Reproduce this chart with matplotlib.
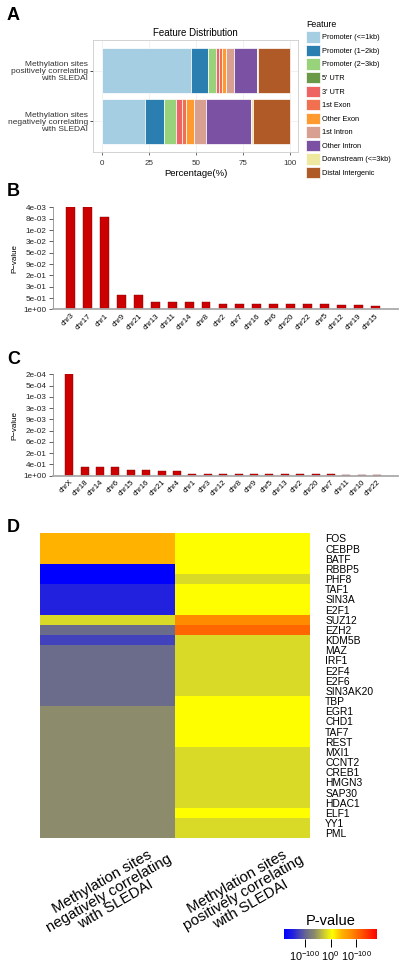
import matplotlib.pyplot as plt
import numpy as np
from matplotlib.colors import LinearSegmentedColormap, Normalize

plt.rcParams['font.family'] = ['Liberation Sans', 'DejaVu Sans']
plt.rcParams['mathtext.default'] = 'regular'

W, H = 401, 971

# ---- Panel A: feature distribution (percent of sites) ----
features = ['Promoter (<=1kb)', 'Promoter (1\u22122kb)', 'Promoter (2\u22123kb)', "5' UTR", "3' UTR",
            '1st Exon', 'Other Exon', '1st Intron', 'Other Intron', 'Downstream (<=3kb)', 'Distal Intergenic']
feature_colors = ['#a6cee3', '#2b7fb0', '#98d27a', '#6a9a48', '#ee6464', '#f07050',
                  '#ff9a30', '#d8a090', '#7b52a3', '#eee8a0', '#b05a28']
groups = ['Methylation sites\nnegatively correlating\nwith SLEDAI',
          'Methylation sites\npositively correlating\nwith SLEDAI']
pct_neg = [22.7, 10.1, 6.4, 0.4, 3.0, 2.3, 4.1, 6.4, 24.2, 0.7, 19.7]
pct_pos = [47.6, 8.7, 4.3, 0.3, 1.6, 1.2, 2.3, 4.3, 12.1, 0.9, 16.7]

# ---- Panel B: chromosome enrichment, positively correlating (-log10 p) ----
b_chr = ['chr3', 'chr17', 'chr1', 'chr9', 'chr21', 'chr13', 'chr11', 'chr14', 'chr8', 'chr2',
         'chr7', 'chr16', 'chr6', 'chr20', 'chr22', 'chr5', 'chr12', 'chr19', 'chr15']
b_score = [2.4, 2.4, 2.18, 0.35, 0.33, 0.17, 0.17, 0.17, 0.17, 0.14,
           0.14, 0.14, 0.14, 0.14, 0.14, 0.13, 0.10, 0.10, 0.08]
b_ticklabels = ['1e+00', '5e-01', '3e-01', '2e-01', '9e-02', '5e-02', '3e-02', '1e-02', '8e-03', '4e-03']
b_max = 2.4

# ---- Panel C: chromosome enrichment, negatively correlating (-log10 p) ----
c_chr = ['chrX', 'chr18', 'chr14', 'chr6', 'chr15', 'chr16', 'chr21', 'chr4', 'chr1', 'chr3', 'chr12',
         'chr8', 'chr9', 'chr5', 'chr13', 'chr2', 'chr20', 'chr7', 'chr11', 'chr10', 'chr22']
c_score = [3.7, 0.33, 0.33, 0.33, 0.21, 0.21, 0.18, 0.18, 0.08, 0.08, 0.08,
           0.08, 0.08, 0.08, 0.08, 0.05, 0.05, 0.05, 0.02, 0.02, 0.02]
c_ticklabels = ['1e+00', '4e-01', '2e-01', '6e-02', '2e-02', '9e-03', '3e-03', '1e-03', '5e-04', '2e-04']
c_max = 3.7

# ---- Panel D: TF binding enrichment heatmap (signed score) ----
tfs = ['FOS', 'CEBPB', 'BATF', 'RBBP5', 'PHF8', 'TAF1', 'SIN3A', 'E2F1', 'SUZ12', 'EZH2',
       'KDM5B', 'MAZ', 'IRF1', 'E2F4', 'E2F6', 'SIN3AK20', 'TBP', 'EGR1', 'CHD1', 'TAF7',
       'REST', 'MXI1', 'CCNT2', 'CREB1', 'HMGN3', 'SAP30', 'HDAC1', 'ELF1', 'YY1', 'PML']
score_neg = [0.24, 0.24, 0.24, -1.0, -1.0, -0.8, -0.8, -0.8, -0.1, -0.52,
             -0.68, -0.52, -0.52, -0.52, -0.52, -0.52, -0.52, -0.34, -0.34, -0.34,
             -0.34, -0.34, -0.34, -0.34, -0.34, -0.34, -0.34, -0.34, -0.34, -0.34]
score_pos = [0.04, 0.04, 0.04, 0.04, -0.1, 0.04, 0.04, 0.04, 0.44, 0.6,
             -0.1, -0.1, -0.1, -0.1, -0.1, -0.1, 0.04, 0.04, 0.04, 0.04,
             0.04, -0.1, -0.1, -0.1, -0.1, -0.1, -0.1, 0.04, -0.1, -0.1]
columns = ['Methylation sites\nnegatively correlating\nwith SLEDAI',
           'Methylation sites\npositively correlating\nwith SLEDAI']

fig = plt.figure(figsize=(W / 100, H / 100), dpi=100)


def add_ax(l, t, r, b):
    return fig.add_axes([l / W, 1 - b / H, (r - l) / W, (b - t) / H])


# Panel A
axA = add_ax(93, 40, 298, 152)
left = np.zeros(2)
for name, col, vals in zip(features, feature_colors, zip(pct_neg, pct_pos)):
    axA.barh([0, 1], vals, left=left, height=0.9, color=col, edgecolor='white',
             linewidth=0.5, label=name)
    left += np.array(vals)
axA.set_xlim(-5, 104.5)
axA.set_ylim(-0.6, 1.6)
axA.set_xticks([0, 25, 50, 75, 100])
axA.set_yticks([0, 1])
axA.set_yticklabels(groups, fontsize=6, linespacing=1.0, color='#333333')
axA.tick_params(axis='x', labelsize=5.8, length=2.5, width=0.5, pad=3, colors='#333333')
axA.tick_params(axis='y', length=2.5, width=0.5, pad=1)
axA.grid(color='#ececec', linewidth=0.5)
axA.set_axisbelow(True)
for s in axA.spines.values():
    s.set_color('#cccccc')
    s.set_linewidth(0.6)
axA.set_title('Feature Distribution', fontsize=7, pad=3)
axA.set_xlabel('Percentage(%)', fontsize=6.8, labelpad=2)
fig.legend(title='Feature', loc='upper left', bbox_to_anchor=(306 / W, 1 - 20 / H),
           frameon=False, fontsize=5.3, title_fontsize=6.3, handlelength=1.9, handleheight=2.0,
           labelspacing=0.3, handletextpad=0.25, alignment='left', borderaxespad=0, borderpad=0)


def chr_bars(ax, names, scores, ymax, labels):
    x = np.arange(len(names))
    ax.bar(x, scores, width=0.52, color='#cc0000', edgecolor='#800000', linewidth=0.3)
    ax.set_ylim(0, ymax)
    ax.set_xlim(-1.05, len(names) - 1 + 1.35)
    ax.set_yticks(np.linspace(0, ymax, len(labels)))
    ax.set_yticklabels(labels)
    ax.set_xticks(x)
    ax.set_xticklabels(names, rotation=45, ha='right', va='top', rotation_mode='anchor')
    ax.tick_params(axis='x', length=0, labelsize=5.6, pad=2)
    ax.tick_params(axis='y', length=3, width=0.5, labelsize=5.9, pad=1.5, colors='#222222')
    ax.spines['top'].set_visible(False)
    ax.spines['right'].set_visible(False)
    ax.spines['left'].set_color('#777777')
    ax.spines['left'].set_linewidth(0.5)
    ax.spines['bottom'].set_color('#aaaaaa')
    ax.spines['bottom'].set_linewidth(1.3)
    ax.set_ylabel('P\u2212value', fontsize=5.8, labelpad=4)


axB = add_ax(53, 207.5, 398, 309.5)
chr_bars(axB, b_chr, b_score, b_max, b_ticklabels)
axC = add_ax(53, 374.3, 398, 475.7)
chr_bars(axC, c_chr, c_score, c_max, c_ticklabels)

# Panel D
cmap = LinearSegmentedColormap.from_list('pv', [
    (0.00, '#0000ff'), (0.10, '#2222dd'), (0.16, '#4444bb'), (0.24, '#6b6b8c'),
    (0.33, '#8c8c6c'), (0.45, '#d8d828'), (0.52, '#ffff00'), (0.62, '#ffb300'),
    (0.72, '#ff8c00'), (0.80, '#ff6600'), (1.00, '#ff0000')])
norm = Normalize(-1, 1)
axD = add_ax(40, 533.3, 310, 838.3)
vals = np.column_stack([score_neg, score_pos])
mesh = axD.pcolormesh(vals, cmap=cmap, norm=norm)
axD.set_ylim(len(tfs), 0)
axD.set_xlim(0, 2)
axD.set_yticks(np.arange(len(tfs)) + 0.5)
axD.set_yticklabels(tfs, fontsize=7.4)
axD.yaxis.tick_right()
axD.tick_params(axis='y', length=0, pad=11)
axD.set_xticks([])
for s in axD.spines.values():
    s.set_visible(False)
for i, lab in enumerate(columns):
    axD.text(i + 0.5 + 0.01, -0.18, lab, transform=axD.get_xaxis_transform(), rotation=30,
             ha='center', va='center', rotation_mode='anchor', fontsize=10.8, linespacing=0.92)

cax = add_ax(284, 929, 377, 939)
cb = fig.colorbar(mesh, cax=cax, orientation='horizontal', ticks=[-0.55, 0, 0.55])
cb.outline.set_visible(False)
cb.ax.set_xticklabels(['$10^{-100}$', '$10^{0}$', '$10^{-100}$'])
cb.ax.tick_params(length=6, width=0.7, labelsize=7.8, pad=1)
cb.ax.set_title('P-value', fontsize=10.5, pad=3)

# Panel letters
for letter, y in [('A', 16), ('B', 192), ('C', 359), ('D', 527)]:
    fig.text(7 / W, 1 - y / H, letter, fontsize=13, fontweight='bold', va='center', ha='left')

fig.savefig('out.png', dpi=100)
